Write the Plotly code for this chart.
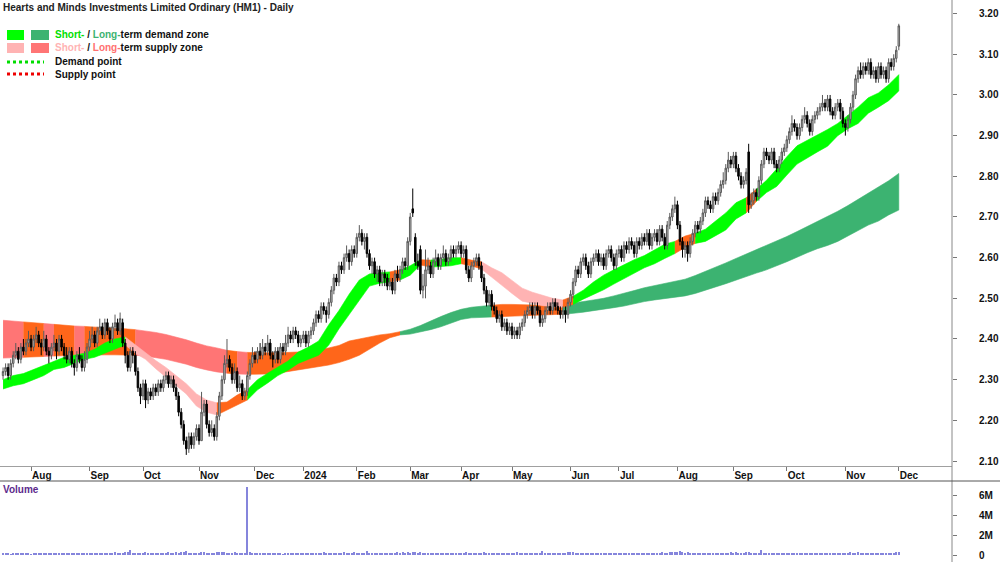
import numpy as np
import pandas as pd
import plotly.graph_objects as go

# ---------------- data ----------------
title_text = "Hearts and Minds Investments Limited Ordinary (HM1) - Daily"
start_date, end_date = "2023-07-17", "2024-12-02"
holidays = ["2023-12-25", "2023-12-26", "2024-01-01", "2024-01-26",
            "2024-03-29", "2024-04-01", "2024-04-25", "2024-06-10"]
month_labels = ["Aug", "Sep", "Oct", "Nov", "Dec", "2024", "Feb", "Mar", "Apr",
                "May", "Jun", "Jul", "Aug", "Sep", "Oct", "Nov", "Dec"]

# prices in cents
opens = [
    231,232,233,231,234,236,237,235,238,237, 239,240,238,240,241,239,238,240,237,236,
    238,239,237,240,238,236,235,237,234,233, 236,235,233,235,238,240,241,239,242,243,
    241,244,242,240,243,244,242,244,239,236, 233,237,236,232,228,226,229,225,227,226,
    228,227,229,228,230,231,229,230,228,226, 222,219,215,213,216,214,216,218,215,222,
    224,219,217,218,216,221,226,230,234,235, 233,230,232,228,229,226,227,231,234,236,
    235,237,236,238,237,239,236,235,237,235, 238,237,239,241,240,242,241,239,240,241,
    239,241,242,244,246,245,248,247,246,249, 252,255,254,258,257,260,261,259,262,261,
    265,266,264,265,261,258,259,256,257,254, 256,255,253,254,252,256,255,257,259,258,
    264,272,265,259,262,252,253,257,258,256, 259,260,258,260,261,259,260,262,261,262,
    263,261,262,257,255,258,259,260,258,255, 252,249,251,248,247,245,246,243,244,242,
    243,241,242,241,243,244,246,247,248,246, 248,247,244,245,247,248,247,249,248,247,
    246,247,246,249,251,254,257,256,259,260, 258,256,259,260,261,259,260,258,261,262,
    260,258,261,262,260,263,262,264,263,261, 264,263,265,264,266,263,265,266,264,267,
    265,263,268,270,272,273,268,264,262,263, 261,264,266,268,267,269,271,274,273,272,
    275,274,276,278,279,282,284,283,285,282, 280,278,279,286,273,274,276,275,279,283,
    286,285,284,286,283,282,284,286,287,289, 291,293,292,290,292,294,295,293,291,294,
    295,296,297,298,297,299,296,295,297,298, 296,293,292,294,297,300,304,306,305,307,
    306,308,305,306,304,307,305,306,304,308, 307,309,312,
]
highs = [
    233,234,234,235,237,239,238,239,240,240, 242,241,241,243,242,240,242,241,238,239,
    241,240,241,241,239,238,238,238,235,237, 238,236,237,239,242,243,242,243,245,244,
    245,245,243,244,246,245,246.5,245,240,237, 238,238,237,233,229,230,230,228,228,229,
    229,230,230,231,232,232,231,231,229,227, 223,220,216,217,217,217,219,219,227,225,
    225,220,220,219,222,227,231,236,240,236, 234,234,233,231,230,228,232,235,238,237,
    238,239,240,239,241,240,237,238,238,239, 239,241,243,242,243,243,242,241,242,242,
    242,243,245,247,247,249,249,248,250,253, 256,256,259,259,261,263,262,263,263,266,
    268,267,266,266,262,260,260,258,258,257, 257,256,255,255,257,258,258,260,260,265,
    271,277,266,261,263,256,262,260,259,260, 262,261,261,263,262,261,263,263,263,264,
    264,263,263,258,259,260,261,261,259,256, 253,252,252,249,248,247,247,245,245,244,
    244,243,243,244,245,247,248,249,249,249, 249,248,246,248,249,249,250,250,249,248,
    248,248,250,252,255,258,258,260,261,261, 259,260,261,262,262,261,261,262,263,263,
    261,262,263,263,264,264,265,265,264,265, 265,266,266,267,267,266,267,267,268,268,
    266,269,271,273,275,274,269,265,264,264, 265,267,269,269,270,272,275,275,274,276,
    276,277,279,281,283,286,285,286,286,283, 281,280,282,288,276,277,277,280,284,287,
    287,286,287,287,284,285,287,288,290,292, 295,294,293,293,295,297,296,294,295,296,
    297,298,300,299,300,300,297,298,299,299, 297,294,295,298,301,305,307,308,308,308,
    309,309,307,307,308,308,307,307,309,309, 310,312,317.5,
]
lows = [
    230,231,230,230,233,235,234,234,236,236, 238,237,237,239,238,236,237,236,234,235,
    237,235,236,237,235,234,234,233,231,232, 234,232,232,234,237,239,238,238,241,240,
    240,241,239,239,242,241,241,238,234,232, 232,234,231,227,224,225,223,224,225,225,
    226,226,227,227,229,228,228,227,225,221, 218,214,211.5,212,213,213,215,214,215,221,
    218,216,216,215,215,220,225,229,233,232, 229,229,227,227,225,225,226,230,233,234,
    234,235,235,236,236,235,233,234,234,234, 236,236,238,239,239,240,238,238,239,238,
    238,240,241,243,244,244,246,244,245,248, 251,253,253,256,256,259,257,258,260,260,
    264,263,262,260,257,256,255,254,253,253, 253,252,252,251,251,254,254,256,257,257,
    263,270,258,257,251,250,250,256,255,255, 258,257,257,259,258,258,259,260,260,261,
    260,260,256,254,254,257,258,257,254,251, 248,248,247,246,244,244,242,242,241,241,
    240,240,240,240,242,243,245,246,245,245, 246,243,243,244,246,246,246,247,246,245,
    245,244,245,248,250,253,255,255,258,257, 255,255,258,259,258,258,257,257,260,259,
    257,257,260,259,259,261,261,262,260,260, 262,262,263,263,262,262,264,263,263,264,
    262,262,267,269,271,267,263,260,260,259, 260,263,265,266,266,268,270,272,271,271,
    273,273,275,277,278,281,282,282,281,279, 277,277,278,271,272,273,274,274,278,282,
    284,283,283,282,281,281,283,285,286,288, 290,291,289,289,291,293,292,290,290,293,
    294,295,296,296,296,295,294,294,296,294, 292,290,291,293,296,299,303,304,304,305,
    305,304,304,303,303,304,304,303,303,306, 306,308,311,
]
closes = [
    232,233,231,234,236,237,235,238,237,239, 240,238,240,241,239,238,240,237,236,238,
    239,237,240,238,236,235,237,234,233,236, 235,233,235,238,240,241,239,242,243,241,
    244,242,240,243,244,242,245,239,236,233, 237,236,232,228,226,229,225,227,226,228,
    227,229,228,230,231,229,230,228,226,222, 219,215,213,216,214,216,218,215,222,224,
    219,217,218,216,221,226,230,234,235,233, 230,232,228,229,226,227,231,234,236,235,
    237,236,238,237,239,236,235,237,235,238, 237,239,241,240,242,241,239,240,241,239,
    241,242,244,246,245,248,247,246,249,252, 255,254,258,257,260,261,259,262,261,265,
    266,264,265,261,258,259,256,257,254,256, 255,253,254,252,256,255,257,259,258,264,
    270,271,259,258,252,253,257,258,256,259, 260,258,260,261,259,260,262,261,262,263,
    261,262,257,255,258,259,260,258,255,252, 249,251,248,247,245,246,243,244,242,243,
    241,242,241,243,244,246,247,248,246,248, 247,244,245,247,248,247,249,248,247,246,
    247,246,249,251,254,257,256,259,260,258, 256,259,260,261,259,260,258,261,262,260,
    258,261,262,260,263,262,264,263,261,264, 263,265,264,266,263,265,266,264,267,265,
    263,268,270,272,273,268,264,262,263,261, 264,266,268,267,269,271,274,273,272,275,
    274,276,278,279,282,284,283,285,282,280, 278,279,281,273,274,276,275,279,283,286,
    285,284,286,283,282,284,286,287,289,291, 293,292,290,292,294,295,293,291,294,295,
    296,297,298,297,299,296,295,297,298,296, 293,292,294,297,300,304,306,305,307,306,
    308,305,306,304,307,305,306,304,308,307, 309,311,317,
]
# volume in thousands of shares
volumes_k = [
    150,120,180,90,140,200,110,160,130,170, 120,100,190,140,110,150,130,210,120,160,
    140,180,110,130,250,120,170,140,190,150, 130,220,160,120,180,140,150,200,170,130,
    160,120,190,150,280,170,230,250,300,260, 500,220,240,180,200,150,260,190,170,140,
    160,200,130,150,170,350,180,210,260,240, 300,280,400,250,190,170,220,180,300,260,
    210,240,190,230,270,260,290,310,230,200, 180,260,210,190,240,250,6800,320,210,180,
    160,190,140,170,150,200,120,110,160,140, 90,120,150,130,170,140,180,220,160,190,
    200,170,230,180,210,190,260,200,240,220, 250,210,190,230,270,240,200,220,260,180,
    230,210,250,400,220,190,240,200,210,180, 250,190,170,230,200,280,210,260,230,300,
    250,350,280,240,260,220,230,200,190,210, 180,240,200,170,190,220,180,200,160,210,
    190,230,260,210,180,200,170,240,210,260, 230,200,220,190,250,210,180,230,200,240,
    210,190,260,220,200,180,240,210,230,200, 190,220,400,250,220,190,210,180,200,170,
    230,210,260,280,300,250,220,240,200,230, 210,190,220,240,180,210,200,230,190,220,
    200,240,180,210,230,190,220,200,170,240, 210,190,230,200,220,180,250,210,230,260,
    240,220,280,300,260,330,400,280,240,260, 230,210,200,220,190,240,210,230,200,180,
    220,200,240,210,190,230,260,240,280,230, 250,220,260,330,240,210,230,200,500,240,
    220,200,190,230,210,180,240,200,220,190, 210,230,200,180,220,190,240,210,200,230,
    190,220,200,240,210,180,230,200,220,190, 210,230,250,260,240,220,280,230,210,240,
    200,220,190,230,210,250,200,220,180,240, 210,260,300,
]

# zone bands, sampled every 4th trading day (cents)
band_idx = list(range(0, 353, 4))
short_top = [
    230.0,231.0,231.5,232.5,233.5,234.5,235.5,236.0,236.5,237.5,
    239.0,240.0,240.5,238.5,236.5,234.7,233.0,231.0,229.0,226.5,
    225.0,224.3,224.5,226.2,227.5,230.0,231.6,233.0,234.6,236.8,
    238.0,239.5,243.5,247.0,251.0,254.5,256.0,256.3,256.5,257.0,
    258.0,259.5,259.4,259.6,260.0,260.0,259.4,259.0,257.5,256.3,
    254.5,252.5,251.5,250.8,250.0,249.6,250.5,252.0,254.0,255.7,
    257.0,258.3,259.5,260.5,261.8,263.3,264.0,265.3,266.0,267.0,
    269.0,271.0,273.5,274.7,276.8,279.0,281.8,284.8,287.5,288.8,
    290.2,291.5,293.0,295.0,297.0,299.3,300.5,302.5,305.0,
]
short_bot = [
    227.7,228.5,229.0,230.0,231.0,232.5,233.0,234.0,235.0,235.5,
    236.5,237.5,238.5,236.5,235.0,232.7,230.5,228.5,226.5,223.5,
    222.0,221.3,222.5,223.8,225.0,227.5,229.2,231.0,232.3,234.0,
    235.0,236.0,238.5,242.5,246.0,249.5,253.0,253.7,254.0,254.5,
    255.7,258.2,257.7,257.8,258.0,258.5,258.0,257.2,255.0,253.2,
    251.2,249.3,248.8,248.2,247.9,247.8,248.5,249.8,251.0,252.1,
    253.5,255.0,256.2,257.5,258.5,259.8,261.0,262.5,263.5,264.0,
    265.5,266.8,269.5,271.0,273.8,276.0,277.5,280.3,283.0,284.5,
    286.0,287.4,290.0,291.7,293.0,295.5,297.0,298.6,301.0,
]
long_top = [
    244.6,244.4,244.2,244.0,243.8,243.6,243.4,243.2,243.1,242.9,
    242.8,242.6,242.5,242.3,242.0,241.6,241.1,240.5,239.8,239.0,
    238.3,237.8,237.2,236.9,236.7,236.6,236.6,236.6,236.7,236.8,
    237.1,237.4,237.8,238.4,239.5,240.0,240.5,241.0,241.3,241.8,
    242.4,243.3,244.5,245.5,246.5,247.3,247.8,248.1,248.3,248.5,
    248.5,248.4,248.3,248.3,248.3,248.5,248.8,249.2,249.6,250.0,
    250.6,251.2,251.9,252.6,253.1,253.7,254.2,254.7,255.6,256.6,
    257.6,258.7,259.8,260.9,262.0,263.0,264.0,265.2,266.4,267.6,
    268.9,270.1,271.4,272.8,274.3,275.9,277.3,278.9,280.7,
]
long_bot = [
    235.3,235.4,235.5,235.6,235.7,235.8,235.9,236.0,236.0,236.1,
    236.1,236.1,236.1,236.0,235.8,235.4,235.0,234.4,233.8,233.0,
    232.4,231.9,231.6,231.4,231.3,231.3,231.4,231.6,231.9,232.4,
    232.8,233.2,233.6,234.2,235.0,236.0,237.5,239.0,240.3,241.0,
    241.2,241.8,242.3,243.0,243.8,244.8,245.2,245.3,245.4,245.5,
    245.6,245.7,245.8,245.9,246.0,246.1,246.3,246.6,247.0,247.3,
    247.7,248.1,248.6,249.2,249.6,250.0,250.3,250.6,251.2,252.0,
    252.8,253.6,254.5,255.3,256.2,257.0,258.0,259.0,260.0,261.2,
    262.2,263.0,264.0,265.3,266.6,268.0,269.0,270.5,271.7,
]
# zone state per stretch of trading days: D demand, S supply, N undecided
short_zones = [("D", 0, 48), ("S", 48, 84), ("N", 84, 96), ("D", 96, 152), ("N", 152, 156),
               ("D", 156, 164), ("N", 164, 168), ("D", 168, 180), ("N", 180, 188),
               ("S", 188, 220), ("N", 220, 224), ("D", 224, 264), ("N", 264, 272),
               ("D", 272, 292), ("N", 292, 296), ("D", 296, 352)]
long_zones = [("S", 0, 8), ("N", 8, 16), ("S", 16, 20), ("N", 20, 28), ("S", 28, 32),
              ("N", 32, 52), ("S", 52, 88), ("N", 88, 92), ("S", 92, 96), ("N", 96, 156),
              ("D", 156, 192), ("N", 192, 220), ("D", 220, 352)]

price_ticks = [2.10, 2.20, 2.30, 2.40, 2.50, 2.60, 2.70, 2.80, 2.90, 3.00, 3.10, 3.20]
vol_tick_vals = [0, 2_000_000, 4_000_000, 6_000_000]
vol_tick_text = ["0", "2M", "4M", "6M"]

# ---------------- styles ----------------
FONT = "Liberation Sans, Arial, sans-serif"
W, H = 1000, 562
PLOT_RIGHT = 952 / W
PRICE_BOTTOM_PX, VOL_TOP_PX = 466, 481
short_colors = {"D": "#00ff00", "S": "#ffb3b3", "N": "#ff661a"}
long_colors = {"D": "#3cb371", "S": "#ff7575", "N": "#ff661a"}

dates = pd.bdate_range(start_date, end_date)
dates = dates[~dates.isin(pd.to_datetime(holidays))]
n = min(len(dates), len(opens), len(highs), len(lows), len(closes), len(volumes_k))
xs = np.arange(n)
month_pos = [i for i in range(1, n) if dates[i].month != dates[i - 1].month]

fig = go.Figure()


def add_band(top, bot, zones, palette):
    for state, a, b in zones:
        ka, kb = band_idx.index(a), band_idx.index(b)
        bx = band_idx[ka:kb + 1]
        px = bx + bx[::-1]
        py = [v / 100 for v in top[ka:kb + 1]] + [v / 100 for v in bot[ka:kb + 1][::-1]]
        fig.add_trace(go.Scatter(
            x=px, y=py, mode="lines", fill="toself", fillcolor=palette[state],
            line=dict(color=palette[state], width=0.6), hoverinfo="skip",
            showlegend=False, xaxis="x", yaxis="y"))


add_band(long_top, long_bot, long_zones, long_colors)
add_band(short_top, short_bot, short_zones, short_colors)

fig.add_trace(go.Candlestick(
    x=xs, open=[v / 100 for v in opens[:n]], high=[v / 100 for v in highs[:n]],
    low=[v / 100 for v in lows[:n]], close=[v / 100 for v in closes[:n]],
    xaxis="x", yaxis="y3", whiskerwidth=0,
    increasing=dict(line=dict(color="#5a5a5a", width=1), fillcolor="#bdbdbd"),
    decreasing=dict(line=dict(color="#000000", width=1), fillcolor="#000000"),
    hoverinfo="skip", showlegend=False))

fig.add_trace(go.Bar(
    x=xs, y=[v * 1000 for v in volumes_k[:n]], xaxis="x2", yaxis="y2",
    marker=dict(color="#8585dc", line=dict(width=0)), width=0.45,
    hoverinfo="skip", showlegend=False))

price_dom = [1 - PRICE_BOTTOM_PX / H, 1]
vol_dom = [0, 1 - VOL_TOP_PX / H]
x_range = [-1.2, 372.9]
p_range = [2.0877, 3.2335]
tickfont = dict(family=FONT, size=10, color="#111111", weight="bold")

fig.update_layout(
    width=W, height=H, autosize=False,
    margin=dict(l=0, r=0, t=0, b=0),
    paper_bgcolor="white", plot_bgcolor="white",
    font=dict(family=FONT, size=10, color="#111111"),
    showlegend=False, bargap=0, boxgap=0.15,
    xaxis=dict(domain=[0, PLOT_RIGHT], range=x_range, anchor="y",
               tickvals=month_pos, ticktext=month_labels[:len(month_pos)],
               ticks="outside", ticklen=4, tickcolor="#777777",
               ticklabelposition="outside right", tickfont=tickfont,
               showline=True, linecolor="#a0a0a0", linewidth=1,
               showgrid=False, zeroline=False, rangeslider=dict(visible=False)),
    yaxis=dict(domain=price_dom, range=p_range, side="right", anchor="x",
               tickvals=price_ticks, tickformat=".2f", ticks="outside", ticklen=4,
               tickcolor="#777777", tickfont=tickfont, ticklabelstandoff=20,
               showline=False, showgrid=False, zeroline=False),
    yaxis3=dict(domain=price_dom, range=p_range, overlaying="y", anchor="x",
                visible=False, showgrid=False, zeroline=False),
    xaxis2=dict(domain=[0, PLOT_RIGHT], range=x_range, anchor="y2", matches="x",
                showticklabels=False, ticks="", showline=False, showgrid=False,
                zeroline=False, rangeslider=dict(visible=False)),
    yaxis2=dict(domain=vol_dom, range=[-700_000, 7_400_000], side="right", anchor="x2",
                tickvals=vol_tick_vals, ticktext=vol_tick_text, ticks="outside",
                ticklen=4, tickcolor="#777777", tickfont=tickfont, ticklabelstandoff=20,
                showline=False, showgrid=False, zeroline=False),
)

shapes = [
    dict(type="line", xref="paper", yref="paper", x0=PLOT_RIGHT, x1=PLOT_RIGHT, y0=0, y1=1,
         line=dict(color="#888888", width=1)),
    dict(type="line", xref="paper", yref="paper", x0=0, x1=1,
         y0=1 - VOL_TOP_PX / H, y1=1 - VOL_TOP_PX / H, line=dict(color="#555555", width=1)),
]


def px_rect(x0, y0, x1, y1, color):
    return dict(type="rect", xref="paper", yref="paper", x0=x0 / W, x1=x1 / W,
                y0=1 - y1 / H, y1=1 - y0 / H, fillcolor=color, line=dict(width=0))


shapes += [
    px_rect(7, 30, 24, 40, short_colors["D"]), px_rect(31, 30, 49, 40, long_colors["D"]),
    px_rect(7, 43, 24, 53, short_colors["S"]), px_rect(31, 43, 49, 53, long_colors["S"]),
    dict(type="line", xref="paper", yref="paper", x0=7 / W, x1=44 / W, y0=1 - 62 / H,
         y1=1 - 62 / H, line=dict(color="#00dd00", width=3, dash="dot")),
    dict(type="line", xref="paper", yref="paper", x0=7 / W, x1=44 / W, y0=1 - 74 / H,
         y1=1 - 74 / H, line=dict(color="#ee0000", width=3, dash="dot")),
]
fig.update_layout(shapes=shapes)


def ann(text, x_px, y_px, color="#111111", size=10):
    fig.add_annotation(text=text, xref="paper", yref="paper", x=x_px / W, y=1 - y_px / H,
                       xanchor="left", yanchor="middle", showarrow=False,
                       font=dict(family=FONT, size=size, color=color))


ann("<b>" + title_text + "</b>", 1, 8, color="#222222")
ann("<b><span style='color:#00e000'>Short-</span> / "
    "<span style='color:#3cb371'>Long-</span>term demand zone</b>", 53, 35)
ann("<b><span style='color:#ffb3b3'>Short-</span> / "
    "<span style='color:#ff7070'>Long-</span>term supply zone</b>", 53, 48)
ann("<b>Demand point</b>", 53, 62)
ann("<b>Supply point</b>", 53, 74)
ann("<b>Volume</b>", 1, 489, color="#5c2a8c")

fig.write_html("out.html")
